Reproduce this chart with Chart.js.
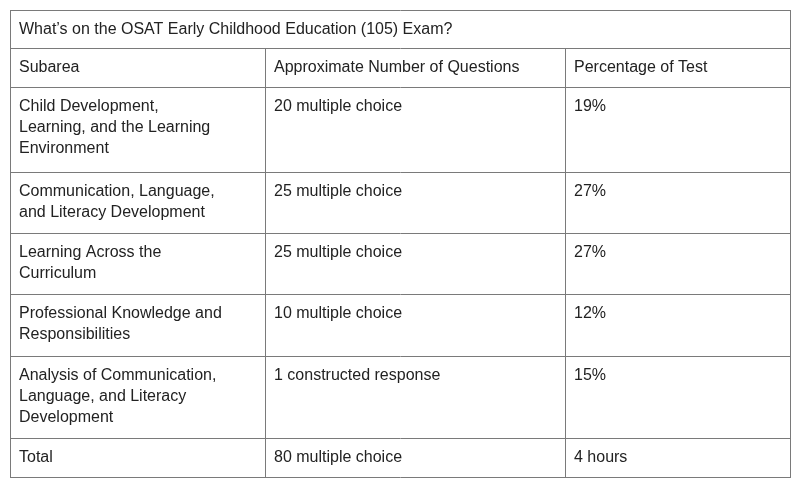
<!DOCTYPE html>
<html><head><meta charset="utf-8">
<script src="https://cdn.jsdelivr.net/npm/chart.js@4"></script>
<style>html,body{margin:0;padding:0;background:#fff}</style>
</head><body>
<canvas id="c" width="801" height="491"></canvas>
<script>
const title = "What’s on the OSAT Early Childhood Education (105) Exam?";
const headers = ["Subarea", "Approximate Number of Questions", "Percentage of Test"];
const subareas = [
  ["Child Development,", "Learning, and the Learning", "Environment"],
  ["Communication, Language,", "and Literacy Development"],
  ["Learning Across the", "Curriculum"],
  ["Professional Knowledge and", "Responsibilities"],
  ["Analysis of Communication,", "Language, and Literacy", "Development"],
  ["Total"]
];
const questions = ["20 multiple choice", "25 multiple choice", "25 multiple choice", "10 multiple choice", "1 constructed response", "80 multiple choice"];
const percentages = ["19%", "27%", "27%", "12%", "15%", "4 hours"];

const colX = [10, 265, 565, 790];
const rowY = [10, 48, 87, 172, 233, 294, 356, 438, 477];

const tablePlugin = {
  id: 'table',
  afterDraw(chart) {
    const ctx = chart.ctx;
    ctx.save();
    ctx.fillStyle = '#fff';
    ctx.fillRect(0, 0, chart.width, chart.height);
    ctx.strokeStyle = '#7a7a7a';
    ctx.lineWidth = 1;
    ctx.beginPath();
    rowY.forEach(y => { ctx.moveTo(colX[0], y + 0.5); ctx.lineTo(colX[3] + 1, y + 0.5); });
    [colX[0], colX[3]].forEach(x => { ctx.moveTo(x + 0.5, rowY[0]); ctx.lineTo(x + 0.5, rowY[8] + 1); });
    [colX[1], colX[2]].forEach(x => { ctx.moveTo(x + 0.5, rowY[1]); ctx.lineTo(x + 0.5, rowY[8] + 1); });
    ctx.stroke();
    ctx.fillStyle = '#222';
    ctx.font = '16px "Liberation Sans", Arial, sans-serif';
    ctx.textBaseline = 'top';
    const pad = 9, lh = 21, tp = 12;
    ctx.fillText(title, colX[0] + pad, rowY[0] + tp);
    headers.forEach((h, i) => ctx.fillText(h, colX[i] + pad, rowY[1] + tp));
    subareas.forEach((lines, r) => {
      const y0 = rowY[r + 2] + tp;
      lines.forEach((l, k) => ctx.fillText(l, colX[0] + pad, y0 + k * lh));
      ctx.fillText(questions[r], colX[1] + pad, y0);
      ctx.fillText(percentages[r], colX[2] + pad, y0);
    });
    ctx.restore();
  }
};

new Chart(document.getElementById('c'), {
  type: 'scatter',
  data: { datasets: [{ data: [] }] },
  options: {
    responsive: false, animation: false,
    plugins: { legend: { display: false }, tooltip: { enabled: false } },
    scales: { x: { display: false }, y: { display: false } }
  },
  plugins: [tablePlugin]
});
</script>
</body></html>
